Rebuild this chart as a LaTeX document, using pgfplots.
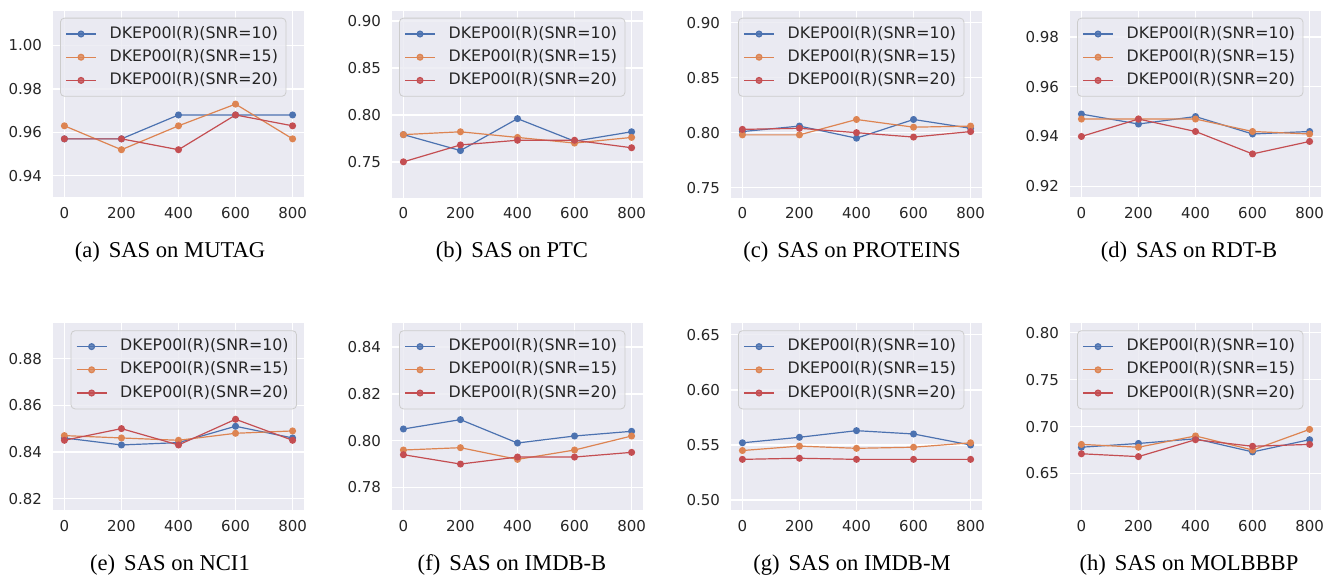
\documentclass[border=0pt]{standalone}
\usepackage{fontspec}
\setmainfont{Liberation Serif}
\newfontfamily\djv{DejaVu Sans}
\usepackage{pgfplots}
\pgfplotsset{compat=1.18}

\definecolor{bgc}{HTML}{EAEAF2}
\definecolor{tc}{HTML}{262626}
\definecolor{c1}{HTML}{4C72B0}
\definecolor{c2}{HTML}{DD8452}
\definecolor{c3}{HTML}{C44E52}

\pgfplotsset{
  panel/.style={
    scale only axis, width=125.5pt, height=93.4pt, anchor=north west,
    xmin=-40, xmax=840, xtick={0,200,400,600,800},
    axis background/.style={fill=bgc},
    axis line style={draw=none}, major tick length=0pt,
    grid=major, grid style={white, line width=0.7pt},
    scaled ticks=false,
    tick label style={font=\djv\fontsize{7.5}{9}\selectfont, text=tc},
    /pgf/number format/assume math mode=true,
    yticklabel style={xshift=-2pt, /pgf/number format/.cd, fixed, fixed zerofill, precision=2},
    xticklabel style={yshift=-1.5pt},
    cycle list={{c1, mark=*, mark options={fill=c1}},
                {c2, mark=*, mark options={fill=c2}},
                {c3, mark=*, mark options={fill=c3}}},
    every axis plot/.append style={line width=0.6pt, mark size=1.45pt},
    legend cell align=left,
    legend style={at={(0.028,0.9625)}, anchor=north west,
      draw=black!20, fill=bgc, fill opacity=0.8, text opacity=1,
      rounded corners=2pt, font=\djv\fontsize{7.9}{9}\selectfont, text=tc,
      inner xsep=2.5pt, inner ysep=2.6pt, row sep=0.9pt,
      nodes={inner sep=1.5pt, text height=5.9pt, text depth=1.8pt},
      /tikz/every odd column/.append style={column sep=5pt}},
    legend image code/.code={\draw[mark repeat=2, mark phase=2, ##1]
      plot coordinates {(0pt,0pt) (7.5pt,0pt) (15pt,0pt)};},
  },
  lr/.style={legend style={at={(0.972,0.9625)}, anchor=north east}},
}
\newcommand\lgd{\legend{DKEP00l(R)(SNR=10),DKEP00l(R)(SNR=15),DKEP00l(R)(SNR=20)}}
\newcommand\subcap[2]{\node[anchor=base, font=\fontsize{11.3}{13}\selectfont] at #1 {#2};}

\begin{document}
\begin{tikzpicture}
\useasboundingbox (0,0) rectangle (664pt,-287pt);

% (a) MUTAG
\begin{axis}[panel, at={(26.5pt,-5.35pt)}, ymin=0.930, ymax=1.016,
  ytick={0.94,0.96,0.98,1.00}]
\addplot coordinates {(0,0.957) (200,0.957) (400,0.968) (600,0.968) (800,0.968)};
\addplot coordinates {(0,0.963) (200,0.952) (400,0.963) (600,0.973) (800,0.957)};
\addplot coordinates {(0,0.957) (200,0.957) (400,0.952) (600,0.968) (800,0.963)};
\lgd
\end{axis}

% (b) PTC
\begin{axis}[panel, at={(196pt,-5.35pt)}, ymin=0.712, ymax=0.911,
  ytick={0.75,0.80,0.85,0.90}]
\addplot coordinates {(0,0.779) (200,0.762) (400,0.796) (600,0.772) (800,0.782)};
\addplot coordinates {(0,0.779) (200,0.782) (400,0.776) (600,0.770) (800,0.776)};
\addplot coordinates {(0,0.750) (200,0.768) (400,0.773) (600,0.773) (800,0.765)};
\lgd
\end{axis}

% (c) PROTEINS
\begin{axis}[panel, at={(365.5pt,-5.35pt)}, ymin=0.741, ymax=0.911,
  ytick={0.75,0.80,0.85,0.90}]
\addplot coordinates {(0,0.801) (200,0.806) (400,0.795) (600,0.812) (800,0.804)};
\addplot coordinates {(0,0.798) (200,0.798) (400,0.812) (600,0.805) (800,0.806)};
\addplot coordinates {(0,0.803) (200,0.804) (400,0.800) (600,0.796) (800,0.801)};
\lgd
\end{axis}

% (d) RDT-B
\begin{axis}[panel, at={(535pt,-5.35pt)}, ymin=0.9155, ymax=0.9905,
  ytick={0.92,0.94,0.96,0.98}]
\addplot coordinates {(0,0.949) (200,0.945) (400,0.948) (600,0.941) (800,0.942)};
\addplot coordinates {(0,0.947) (200,0.947) (400,0.947) (600,0.942) (800,0.941)};
\addplot coordinates {(0,0.940) (200,0.947) (400,0.942) (600,0.933) (800,0.938)};
\lgd
\end{axis}

% (e) NCI1
\begin{axis}[panel, lr, at={(26.5pt,-161.65pt)}, ymin=0.8151, ymax=0.8951,
  ytick={0.82,0.84,0.86,0.88}]
\addplot coordinates {(0,0.846) (200,0.843) (400,0.844) (600,0.851) (800,0.846)};
\addplot coordinates {(0,0.847) (200,0.846) (400,0.845) (600,0.848) (800,0.849)};
\addplot coordinates {(0,0.845) (200,0.850) (400,0.843) (600,0.854) (800,0.845)};
\lgd
\end{axis}

% (f) IMDB-B
\begin{axis}[panel, at={(196pt,-161.65pt)}, ymin=0.7703, ymax=0.8502,
  ytick={0.78,0.80,0.82,0.84}]
\addplot coordinates {(0,0.805) (200,0.809) (400,0.799) (600,0.802) (800,0.804)};
\addplot coordinates {(0,0.796) (200,0.797) (400,0.792) (600,0.796) (800,0.802)};
\addplot coordinates {(0,0.794) (200,0.790) (400,0.793) (600,0.793) (800,0.795)};
\lgd
\end{axis}

% (g) IMDB-M
\begin{axis}[panel, at={(365.5pt,-161.65pt)}, ymin=0.491, ymax=0.6603,
  ytick={0.50,0.55,0.60,0.65}]
\addplot coordinates {(0,0.552) (200,0.557) (400,0.563) (600,0.560) (800,0.550)};
\addplot coordinates {(0,0.545) (200,0.549) (400,0.547) (600,0.548) (800,0.552)};
\addplot coordinates {(0,0.537) (200,0.538) (400,0.537) (600,0.537) (800,0.537)};
\lgd
\end{axis}

% (h) MOLBBBP
\begin{axis}[panel, at={(535pt,-161.65pt)}, ymin=0.611, ymax=0.810,
  ytick={0.65,0.70,0.75,0.80}]
\addplot coordinates {(0,0.678) (200,0.682) (400,0.687) (600,0.673) (800,0.686)};
\addplot coordinates {(0,0.681) (200,0.678) (400,0.690) (600,0.675) (800,0.697)};
\addplot coordinates {(0,0.671) (200,0.668) (400,0.686) (600,0.679) (800,0.681)};
\lgd
\end{axis}

\subcap{(85pt,-128.5pt)}{(a)\hspace{4.5pt}SAS on MUTAG}
\subcap{(256pt,-128.5pt)}{(b)\hspace{4.5pt}SAS on PTC}
\subcap{(426pt,-128.5pt)}{(c)\hspace{4.5pt}SAS on PROTEINS}
\subcap{(594.5pt,-128.5pt)}{(d)\hspace{4.5pt}SAS on RDT-B}
\subcap{(85pt,-285pt)}{(e)\hspace{4.5pt}SAS on NCI1}
\subcap{(256pt,-285pt)}{(f)\hspace{4.5pt}SAS on IMDB-B}
\subcap{(426pt,-285pt)}{(g)\hspace{4.5pt}SAS on IMDB-M}
\subcap{(594.5pt,-285pt)}{(h)\hspace{4.5pt}SAS on MOLBBBP}
\end{tikzpicture}
\end{document}
